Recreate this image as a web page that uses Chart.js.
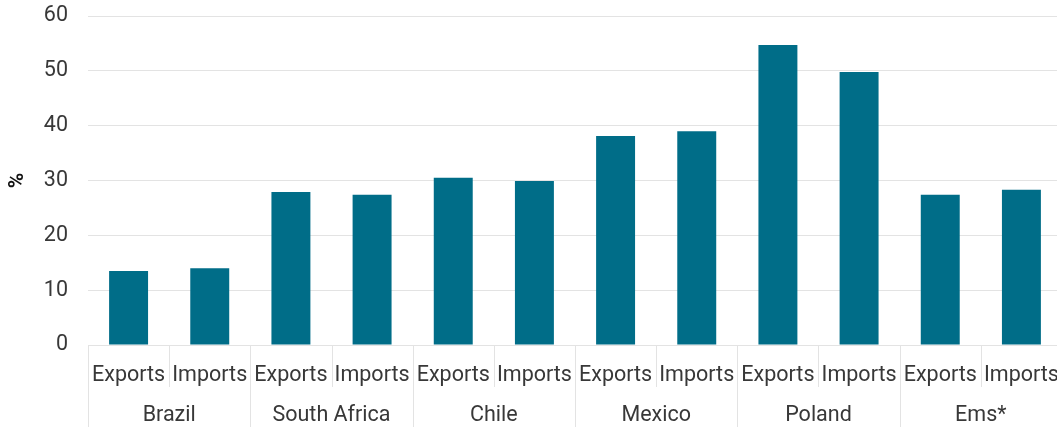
<!DOCTYPE html>
<html>
<head>
<meta charset="utf-8">
<script src="https://cdn.jsdelivr.net/npm/chart.js@4/dist/chart.umd.min.js"></script>
<style>
  html, body { margin: 0; padding: 0; background: #fff; overflow: hidden; }
  /* plot runs slightly past the right edge of the window */
  #wrap { width: 1062px; height: 427px; position: relative; }
</style>
</head>
<body>
<div id="wrap"><canvas id="trade"></canvas></div>
<script>
// Trade shares by economy, exports and imports side by side
var countries = ['Brazil', 'South Africa', 'Chile', 'Mexico', 'Poland', 'Ems*'];
var flows = ['Exports', 'Imports'];
var exportsPct = [13.5, 27.9, 30.5, 38.1, 54.7, 27.4];
var importsPct = [14.0, 27.4, 29.9, 39.0, 49.8, 28.3];
var yTicks = [0, 10, 20, 30, 40, 50, 60];

var textColor = '#383838';
var gridColor = '#e3e3e3';
var barColor = '#006d88';
var fontFamily = 'Roboto, "Liberation Sans", sans-serif';
var labelFont = '21.5px ' + fontFamily;

// one bar per country/flow pair
var flowLabels = [];
var values = [];
countries.forEach(function (c, i) {
  flowLabels.push(flows[0], flows[1]);
  values.push(exportsPct[i], importsPct[i]);
});

// two-row category axis: flow names, then country names, with dividers
var groupedAxis = {
  id: 'groupedAxis',
  afterDraw: function (chart) {
    var x = chart.scales.x;
    var c = chart.ctx;
    var top = chart.chartArea.bottom;
    var rowH = 42;
    var bottom = chart.height;
    var step = x.getPixelForValue(1) - x.getPixelForValue(0);

    c.save();
    c.strokeStyle = gridColor;
    c.lineWidth = 1;
    c.beginPath();
    for (var i = 0; i <= flowLabels.length; i++) {
      var px = Math.round(x.getPixelForValue(i) - step / 2) + 0.5;
      c.moveTo(px, top);
      c.lineTo(px, i % 2 === 0 ? bottom : top + rowH);
    }
    c.stroke();

    c.fillStyle = textColor;
    c.font = labelFont;
    c.textAlign = 'center';
    c.textBaseline = 'middle';
    flowLabels.forEach(function (lbl, i) {
      c.fillText(lbl, x.getPixelForValue(i), top + 31);
    });
    countries.forEach(function (lbl, i) {
      var mid = (x.getPixelForValue(2 * i) + x.getPixelForValue(2 * i + 1)) / 2;
      c.fillText(lbl, mid, top + 71);
    });
    c.restore();
  }
};

var ctx = document.getElementById('trade').getContext('2d');
var tradeChart = new Chart(ctx, {
  type: 'bar',
  data: {
    labels: flowLabels,
    datasets: [{
      data: values,
      backgroundColor: barColor,
      barPercentage: 0.48,
      categoryPercentage: 1
    }]
  },
  options: {
    responsive: true,
    maintainAspectRatio: false,
    animation: false,
    layout: { padding: { top: 16, right: 0, bottom: 82, left: 0 } },
    plugins: {
      legend: { display: false },
      tooltip: { enabled: false }
    },
    scales: {
      y: {
        min: 0,
        max: 60,
        afterBuildTicks: function (axis) {
          axis.ticks = yTicks.map(function (v) { return { value: v }; });
        },
        afterFit: function (axis) {
          // fixed gutter for the % title and tick labels
          axis.width = 88;
          axis.paddingTop = 0;
          axis.paddingBottom = 0;
        },
        border: { display: false },
        grid: { color: gridColor, lineWidth: 1, drawTicks: false },
        ticks: { color: textColor, padding: 20, font: { family: fontFamily, size: 21.5 } },
        title: {
          display: true,
          text: '%',
          color: '#111',
          padding: { top: 5, bottom: 0 },
          font: { family: fontFamily, size: 21, weight: 'bold' }
        }
      },
      x: {
        display: false
      }
    }
  },
  plugins: [groupedAxis]
});
</script>
</body>
</html>
